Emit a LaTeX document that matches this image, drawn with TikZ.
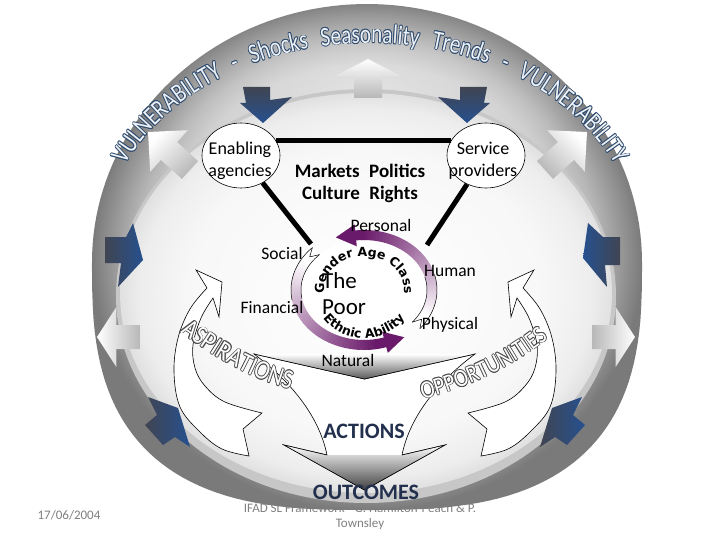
\documentclass[tikz,border=0pt]{standalone}
\usepackage{fontspec}
\setmainfont{Carlito}
\newfontfamily\heavyfont{DejaVu Sans}
\newfontfamily\vulnfont[FakeStretch=0.78]{Carlito}
\newfontfamily\comicfont[FakeStretch=0.85]{Carlito}
\usetikzlibrary{calc,decorations.text,fadings,shapes.geometric}

\definecolor{vulnline}{HTML}{2E4B6E}
\definecolor{vulnfill}{HTML}{EEF2F7}
\definecolor{navyhead}{HTML}{26508F}
\definecolor{tailgray}{HTML}{404552}
\definecolor{ringpurple}{HTML}{6A1A6A}
\definecolor{actnavy}{HTML}{22304D}

\pgfdeclareradialshading{ringshade}{\pgfpoint{0bp}{0bp}}{color(0bp)=(black!10); color(19bp)=(black!20); color(21bp)=(black!28); color(23bp)=(black!40); color(25bp)=(black!52); color(50bp)=(black!52)}
\pgfdeclareradialshading{innershade}{\pgfpoint{0bp}{0bp}}{color(0bp)=(white); color(18bp)=(black!3); color(23bp)=(black!7); color(25bp)=(black!12); color(50bp)=(black!12)}
\tikzfading[name=glowfade, inner color=transparent!0, outer color=transparent!100]

% block arrow: #1 tail, #2 tip, #3 tail half width, #4 head half width, #5 head start fraction, #6 style
\newcommand\blockarrow[6]{%
  \coordinate (bt) at #1;
  \coordinate (bp) at #2;
  \coordinate (bh) at ($(bt)!#5!(bp)$);
  \path[#6] ($(bt)!#3!90:(bp)$) -- ($(bh)!#3!90:(bp)$) -- ($(bh)!#4!90:(bp)$) -- (bp) -- ($(bh)!#4!-90:(bp)$) -- ($(bh)!#3!-90:(bp)$) -- ($(bt)!#3!-90:(bp)$) -- cycle;
}

% outlined text along a path: #1 path, #2 font, #3 text, #4 fill, #5 outline, #6 align
\newcommand\outlinealong[6]{%
  \foreach \dx/\dy in {-0.8/0,0.8/0,0/-0.8,0/0.8,-0.55/-0.55,0.55/0.55,-0.55/0.55,0.55/-0.55}{%
    \path[shift={(\dx,\dy)}, decorate, decoration={text along path, text align={#6}, text={|#2\color{#5}|#3}}] #1;
  }%
  \path[decorate, decoration={text along path, text align={#6}, text={|#2\color{#4}|#3}}] #1;
}

\begin{document}
\begin{tikzpicture}[x=1pt,y=-1pt,
  lbl/.style={font=\fontsize{17.5}{19}\selectfont, inner sep=0pt},
  circlbl/.style={font=\fontsize{18}{22}\selectfont, align=center, inner sep=0pt},
  foot/.style={font=\fontsize{13}{15}\selectfont, text=black!50, inner sep=0pt},
  mkt/.style={font=\fontsize{19}{19}\selectfont\bfseries, inner sep=0pt},
  poor/.style={font=\fontsize{23}{23}\selectfont, inner sep=0pt, anchor=west},
  act/.style={font=\fontsize{22}{22}\selectfont\bfseries, text=actnavy, inner sep=0pt},
  bigarrow/.style={draw=black, line width=0.6pt, fill=white},
  agent/.style={draw=black, line width=0.6pt, fill=white, ellipse, minimum width=78pt, minimum height=65pt, inner sep=0pt},
  heavyline/.style={line width=4.5pt, black},
  whitearrow/.style={top color=white, bottom color=black!28},
  bluearrow/.style={top color=tailgray, bottom color=navyhead},
  bluearrowh/.style={left color=tailgray, right color=navyhead}
]
\useasboundingbox (0,0) rectangle (720,540);
\fill[white] (0,0) rectangle (720,540);

% footer (behind the sphere)
\node[foot] (date) at (69,515) {17/06/2004};
\node[foot, align=center] (credit) at (360,517) {IFAD SL Framework - G. Hamilton-Peach \& P.\\Townsley};

% sphere
\shade[shading=ringshade] plot[domain=0.5:89.5, samples=40] ({367+275*cos(\x)^0.714},{262+248*sin(\x)^0.714}) -- plot[domain=90.5:179.5, samples=40] ({367-275*abs(cos(\x))^0.714},{262+248*sin(\x)^0.714}) -- plot[domain=180:360, samples=90] ({367+275*cos(\x)},{262+258*sin(\x)}) -- cycle;
\fill[white, opacity=0.4, path fading=glowfade] (367,90) ellipse [x radius=220pt, y radius=105pt];
\fill[black!22] (366,296) ellipse [x radius=250pt, y radius=207pt];
\shade[shading=innershade] (366,293) ellipse [x radius=246pt, y radius=200pt];

% outward (white) arrows
\blockarrow{(368,98)}{(368,59)}{14pt}{34pt}{0.55}{whitearrow}
\blockarrow{(190,170)}{(148,132)}{12pt}{28pt}{0.5}{whitearrow, shading angle=45}
\blockarrow{(545,170)}{(587,132)}{12pt}{28pt}{0.5}{whitearrow, shading angle=-45}
\blockarrow{(140,337)}{(97,337)}{12pt}{30pt}{0.55}{whitearrow, shading angle=90}
\blockarrow{(592,337)}{(635,337)}{12pt}{30pt}{0.55}{whitearrow, shading angle=-90}

% inward (blue) shock arrows
\path[bluearrow] (243,87) -- (270,87) -- (270,100) -- (292,97) -- (263,123) -- (240,103) -- (246,103) -- cycle;
\path[bluearrow] (487,87) -- (460,87) -- (460,100) -- (438,97) -- (467,123) -- (490,103) -- (484,103) -- cycle;
\path[bluearrowh] (105,237) -- (126,237) -- (133,223) -- (143,260) -- (118,287) -- (121,263) -- (105,263) -- cycle;
\path[bluearrowh, left color=navyhead, right color=tailgray] (620,237) -- (603,237) -- (588,223) -- (583,258) -- (607,287) -- (605,265) -- (620,265) -- cycle;
\path[bluearrowh] (148,397) -- (178,408) -- (190,447) -- (175,437) -- (163,445) -- (145,425) -- (157,415) -- cycle;
\path[bluearrowh] (582,397) -- (552,408) -- (540,447) -- (555,437) -- (567,445) -- (585,425) -- (573,415) -- cycle;

% vulnerability text
\outlinealong{plot[domain=204:336, samples=80] ({370+268*cos(\x)},{248+205*sin(\x)})}{\vulnfont\fontsize{27}{27}\selectfont}{VULNERABILITY - Shocks Seasonality Trends - VULNERABILITY}{vulnfill}{vulnline}{fit to path stretching spaces}

% feedback curved arrows
\draw[bigarrow] plot[smooth, tension=0.6] coordinates {(249,456) (222,449) (200,432) (180,407) (174,372) (178,338) (190,309) (207,288)} -- (196,270) -- (222,282) -- (219,317) -- plot[smooth, tension=0.6] coordinates {(213,298) (201,318) (193,345) (195,368) (205,386) (225,402) (262,413)} -- (243,429) -- cycle;
\draw[bigarrow] plot[smooth, tension=0.6] coordinates {(481,456) (508,449) (530,432) (550,407) (556,372) (552,338) (540,309) (523,288)} -- (534,270) -- (508,282) -- (511,317) -- plot[smooth, tension=0.6] coordinates {(517,298) (529,318) (537,345) (535,368) (525,386) (505,402) (468,413)} -- (487,429) -- cycle;

% actions arrow
\draw[bigarrow] (254,354) -- (364.5,379) -- (475,354) .. controls (440,380) and (410,415) .. (402,455) -- (445,445) -- (364.5,490) -- (284,445) -- (327,455) .. controls (319,415) and (289,380) .. (254,354) -- cycle;
\shade[top color=white, bottom color=black!65] (254,354) -- (475,354) -- (364.5,379) -- cycle;
\shade[top color=white, middle color=white!85!black, bottom color=black!75] (284,445) -- (327,455) -- (402,455) -- (445,445) -- (364.5,490) -- cycle;
\draw[line width=0.6pt] (254,354) -- (364.5,379) -- (475,354);
\draw[line width=0.6pt] (327,455) -- (284,445) -- (364.5,490) -- (445,445) -- (402,455);

% aspirations / opportunities
\outlinealong{(173,327) .. controls (205,350) and (248,381) .. (299,391)}{\comicfont\fontsize{27}{27}\selectfont}{ASPIRATIONS}{white}{black!70}{center}
\outlinealong{(409,402) .. controls (460,392) and (515,368) .. (559,329)}{\comicfont\fontsize{25}{25}\selectfont}{OPPORTUNITIES}{white}{black!70}{center}

% agencies and links
\node[agent] (ea) at (241,155.5) {};
\node[agent] (sp) at (486,155.5) {};
\coordinate (ringL) at (311,244);
\coordinate (ringR) at (427,245);
\draw[heavyline] (ea.23) -- (sp.157);
\draw[heavyline, line width=5pt] (ea) -- (ringL);
\draw[heavyline, line width=5pt] (sp) -- (ringR);
\node[circlbl] (eatext) at (240,161) {Enabling\\agencies};
\node[circlbl] (sptext) at (483,161) {Service\\providers};
\node[mkt] (mp) at (360,171) {Markets\enspace Politics};
\node[mkt] (cr) at (360,194) {Culture\enspace Rights};

% the poor ring
\fill[white] (364,290) ellipse [x radius=63pt, y radius=50pt];
\foreach \a in {40,37,...,-95}{%
  \pgfmathsetmacro\b{\a-3.4}%
  \pgfmathsetmacro\pc{max(0,min(100,(40-\a)/135*115-10))}%
  \draw[line width=10pt, color=ringpurple!\pc!white] plot[domain=\a:\b, samples=3] ({364+68*cos(\x)},{290+55*sin(\x)});
}
\foreach \a in {225,222,...,75}{%
  \pgfmathsetmacro\b{\a-3.4}%
  \pgfmathsetmacro\pc{max(0,min(100,(225-\a)/150*115-10))}%
  \draw[line width=10pt, color=ringpurple!\pc!white] plot[domain=\a:\b, samples=3] ({364+68*cos(\x)},{290+55*sin(\x)});
}
\fill[ringpurple] (356.8,246.3) -- (354.6,224.5) -- (335.8,237.4) -- cycle;
\fill[ringpurple] (387.8,352.9) -- (382.2,331.7) -- (404.3,337.2) -- cycle;
\draw[line width=0.5pt] plot[domain=40:-15, samples=20] ({364+73*cos(\x)},{290+60*sin(\x)});
\draw[line width=0.5pt] plot[domain=40:-15, samples=20] ({364+63*cos(\x)},{290+50*sin(\x)});
\draw[line width=0.5pt] ({364+73*cos(40)},{290+60*sin(40)}) -- ({364+68*cos(32)},{290+55*sin(32)}) -- ({364+63*cos(40)},{290+50*sin(40)});
\draw[line width=0.5pt] plot[domain=225:170, samples=20] ({364+73*cos(\x)},{290+60*sin(\x)});
\draw[line width=0.5pt] plot[domain=225:170, samples=20] ({364+63*cos(\x)},{290+50*sin(\x)});
\draw[line width=0.5pt] ({364+73*cos(225)},{290+60*sin(225)}) -- ({364+68*cos(217)},{290+55*sin(217)}) -- ({364+63*cos(225)},{290+50*sin(225)});

\path[decorate, decoration={text along path, text align=center, text={|\heavyfont\bfseries\fontsize{12.5}{12.5}\selectfont|Gender Age Class}}] plot[domain=175:365, samples=40] ({364+40*cos(\x)},{290+34*sin(\x)});
\path[decorate, decoration={text along path, text align=center, text={|\heavyfont\bfseries\fontsize{12.5}{12.5}\selectfont|Ethnic  Ability}}] plot[domain=160:20, samples=40] ({364+51*cos(\x)},{290+48*sin(\x)});
\node[poor] (the) at (322,281) {The};
\node[poor] (poorw) at (322,307) {Poor};

% capitals
\node[lbl] (personal) at (381,225) {Personal};
\node[lbl] (social) at (282,253) {Social};
\node[lbl] (human) at (450,271) {Human};
\node[lbl] (financial) at (272,307) {Financial};
\node[lbl] (physical) at (450,325) {Physical};
\node[lbl] (natural) at (348,360) {Natural};

% actions / outcomes
\node[act] (actions) at (364,431) {ACTIONS};
\node[act] (outcomes) at (366,492) {OUTCOMES};
\end{tikzpicture}
\end{document}
